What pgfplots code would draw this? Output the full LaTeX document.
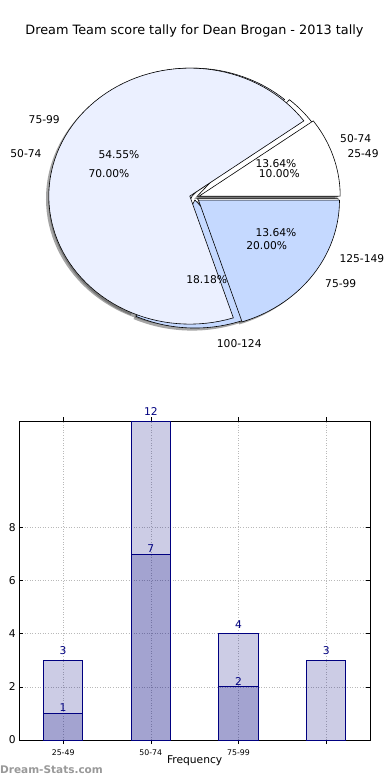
\documentclass[border=0pt]{standalone}
\usepackage{fontspec}
\setmainfont{DejaVu Sans}
\usepackage{pgfplots}
\pgfplotsset{compat=1.18}
\definecolor{navy}{RGB}{0,0,128}
\definecolor{pielight}{RGB}{235,240,255}
\definecolor{pieblue}{RGB}{197,217,255}
\newcommand{\lbl}{\fontsize{10.7}{12}\selectfont}
% wedge: start angle, end angle, apex x, apex y, style
\newcommand{\pieWedge}[5]{\addplot[#5, domain=#1:#2, samples=90, variable=\t] ({#3+cos(\t)},{#4+sin(\t)}) -- (axis cs:#3,#4) -- cycle;}
\begin{document}
\begin{tikzpicture}
\path[use as bounding box] (0,0) rectangle (390pt,780pt);
\fill[white] (0,0) rectangle (390pt,780pt);

% ---------------- pies ----------------
\begin{axis}[at={(194.5pt,582.5pt)}, anchor=center, scale only axis,
  width=423pt, height=384pt, xmin=-1.5, xmax=1.5, ymin=-1.5, ymax=1.5,
  axis lines=none, clip=false]
% shadows (offset -0.02,-0.02)
\pgfplotsset{shd/.style={fill=black!70, fill opacity=0.5, draw=none}}
\pieWedge{0}{49.09}{-0.0018}{-0.0117}{shd}
\pieWedge{49.09}{245.45}{-0.0368}{-0.0092}{shd}
\pieWedge{245.45}{310.91}{-0.0172}{-0.0398}{shd}
\pieWedge{310.91}{360}{-0.0018}{-0.0283}{shd}
\pieWedge{0}{36}{0.0133}{-0.0092}{shd}
\pieWedge{36}{288}{-0.0533}{-0.0092}{shd}
\pieWedge{288}{360}{0.0083}{-0.0406}{shd}
% back pie: 3, 12, 4, 3
\pieWedge{0}{49.09}{0.0182}{0.0083}{fill=white, draw=black, line width=0.6pt}
\pieWedge{49.09}{245.45}{-0.0168}{0.0108}{fill=pielight, draw=black, line width=0.6pt}
\pieWedge{245.45}{310.91}{0.0028}{-0.0198}{fill=pieblue, draw=black, line width=0.6pt}
\pieWedge{310.91}{360}{0.0182}{-0.0083}{fill=white, draw=black, line width=0.6pt}
% front pie: 1, 7, 2
\pieWedge{0}{36}{0.0333}{0.0108}{fill=white, draw=black, line width=0.6pt}
\pieWedge{36}{288}{-0.0333}{0.0108}{fill=pielight, draw=black, line width=0.6pt}
\pieWedge{288}{360}{0.0283}{-0.0206}{fill=pieblue, draw=black, line width=0.6pt}
\end{axis}

% ---------------- bars ----------------
\begin{axis}[at={(19.3pt,40pt)}, anchor=south west, scale only axis,
  width=350.7pt, height=318.7pt,
  xmin=-0.5, xmax=3.5, ymin=0, ymax=12,
  xtick={0,1,2,3}, xticklabels={25-49,50-74,75-99,{}},
  ytick={0,2,4,6,8},
  tick pos=both, tick align=inside, major tick length=4pt,
  tick style={black, line width=0.6pt},
  grid=major, grid style={gray!55, line width=0.6pt, dash pattern=on 0.8pt off 1.8pt},
  axis line style={black, line width=0.8pt},
  /pgf/number format/assume math mode=true,
  xticklabel style={font=\fontsize{7.8}{9}\selectfont, anchor=base, yshift=-11pt, inner sep=0pt},
  yticklabel style={font=\lbl, anchor=east, inner sep=0pt, xshift=-3.5pt},
  xlabel={Frequency},
  xlabel style={font=\lbl, at={(axis description cs:0.5,0)}, anchor=base, yshift=-23.5pt, inner sep=0pt},
  ybar, bar width=0.45, bar shift=0pt, clip=false,
  nodes near coords,
  every node near coord/.append style={font=\lbl, text=navy, inner sep=0pt, text opacity=1, fill opacity=1},
]
\addplot[fill=navy, fill opacity=0.2, draw=navy, draw opacity=1, line width=0.8pt,
  every node near coord/.append style={yshift=5pt}]
  coordinates {(0,3) (1,12) (2,4) (3,3)};
\addplot[fill=navy, fill opacity=0.2, draw=navy, draw opacity=1, line width=0.8pt,
  every node near coord/.append style={yshift=1.3pt}]
  coordinates {(0,1) (1,7) (2,2)};
\end{axis}

% ---------------- texts ----------------
\node[anchor=base, inner sep=0pt, font=\fontsize{12.84}{14}\selectfont] at (194.5pt,745pt) {Dream Team score tally for Dean Brogan - 2013 tally};
\begin{scope}[every node/.style={inner sep=0pt, font=\lbl}]
\node[anchor=east] at (60pt,660.7pt) {75-99};
\node[anchor=east] at (41.7pt,626.7pt) {50-74};
\node[anchor=west] at (340pt,641.7pt) {50-74};
\node[anchor=west] at (347.3pt,626.7pt) {25-49};
\node at (276pt,616pt) {13.64\%};
\node at (279.3pt,606.7pt) {10.00\%};
\node at (119pt,625.7pt) {54.55\%};
\node at (109pt,606.7pt) {70.00\%};
\node at (276pt,547.7pt) {13.64\%};
\node at (266.7pt,534pt) {20.00\%};
\node[anchor=west] at (339.3pt,521.7pt) {125-149};
\node[anchor=west] at (325pt,496.7pt) {75-99};
\node at (206.7pt,500.7pt) {18.18\%};
\node[anchor=west] at (216.7pt,436.7pt) {100-124};
\end{scope}
\node[anchor=west, inner sep=0pt, text=black!40, font=\bfseries\fontsize{10.5}{12}\selectfont] at (0pt,10pt) {Dream-Stats.com};
\end{tikzpicture}
\end{document}
